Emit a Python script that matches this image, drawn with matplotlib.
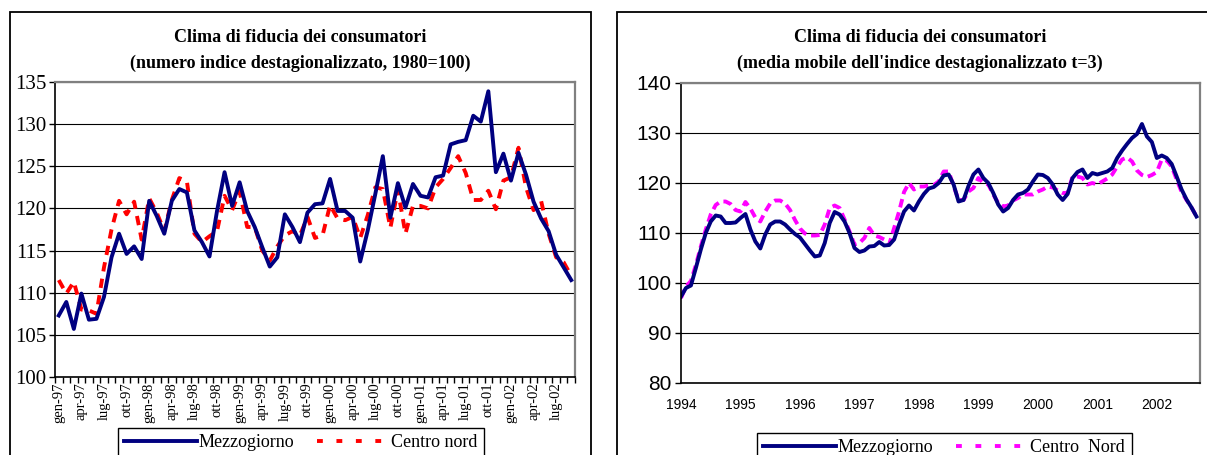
#!/usr/bin/env python
# Clima di fiducia dei consumatori: Mezzogiorno vs Centro nord (two Excel-style panels)

import numpy as np
import matplotlib.pyplot as plt
from matplotlib.patches import Rectangle
from matplotlib.lines import Line2D

# left panel: monthly index, gen-97 .. set-02
mesi = ['gen', 'feb', 'mar', 'apr', 'mag', 'giu', 'lug', 'ago', 'set', 'ott', 'nov', 'dic']
anni = ['97', '98', '99', '00', '01', '02']
mezzo_m = [107.3, 108.9, 105.7, 109.9, 106.8, 106.9, 109.5, 114.2, 117.0, 114.6, 115.5, 114.0,
           120.9, 119.1, 117.0, 120.9, 122.3, 121.9, 117.4, 116.0, 114.3, 119.7, 124.3, 120.3,
           123.1, 119.7, 117.8, 115.4, 113.1, 114.2, 119.3, 117.8, 116.0, 119.5, 120.5, 120.6,
           123.5, 119.7, 119.7, 118.9, 113.7, 117.4, 121.7, 126.2, 118.9, 123.0, 120.1, 122.9,
           121.5, 121.3, 123.7, 123.9, 127.6, 127.9, 128.1, 131.0, 130.3, 133.9, 124.3, 126.5,
           123.3, 126.6, 124.0, 120.8, 118.8, 117.3, 114.5, 113.0, 111.5]
centro_m = [111.5, 109.9, 111.3, 108.0, 107.9, 107.5, 113.0, 117.5, 120.9, 119.3, 120.8, 116.3,
            121.2, 119.5, 117.3, 121.0, 123.6, 123.2, 117.0, 116.0, 116.7, 117.3, 121.5, 119.8,
            122.0, 117.8, 117.8, 115.0, 113.8, 115.5, 116.8, 117.3, 116.8, 119.0, 116.5, 116.8,
            120.4, 118.8, 118.6, 119.0, 116.5, 119.2, 122.5, 122.3, 117.7, 122.2, 117.0, 120.3,
            120.3, 120.0, 122.5, 123.5, 124.8, 126.2, 124.2, 121.0, 121.0, 122.1, 119.9, 123.3,
            123.7, 127.2, 122.5, 119.8, 120.9, 117.0, 114.2, 113.6, 112.0]

# right panel: 3-month moving average, Jan 1994 .. Sep 2002
mezzo_mm = [97.3, 99.0, 99.5, 103.0, 106.7, 110.0, 112.3, 113.5, 113.3, 112.0, 112.0, 112.1, 113.0,
            113.8, 110.7, 108.3, 106.9, 109.7, 111.7, 112.3, 112.3, 111.7, 110.7, 109.8, 109.1, 107.8, 106.5,
            105.3, 105.5, 108.0, 112.0, 114.2, 113.7, 112.3, 110.0, 107.0, 106.2, 106.5, 107.3, 107.4,
            108.2, 107.5, 107.6, 108.7, 111.7, 114.3, 115.5, 114.5, 116.3, 117.8, 118.9, 119.2, 120.0, 121.5,
            121.7, 119.7, 116.3, 116.6, 119.4, 121.7, 122.7, 121.0, 120.0, 118.0, 115.7, 114.3, 115.0,
            116.6, 117.7, 118.0, 118.7, 120.3, 121.7, 121.6, 121.0, 119.7, 117.7, 116.6, 117.8, 121.0,
            122.2, 122.7, 121.0, 122.0, 121.7, 122.0, 122.3, 123.0, 125.0, 126.5, 127.8, 129.0, 129.8,
            131.8, 129.3, 128.2, 125.0, 125.5, 125.0, 123.8, 121.3, 118.7, 116.7, 115.1, 113.3]
centro_mm = [97.0, 99.3, 100.4, 103.6, 107.3, 110.7, 113.7, 115.6, 116.3, 116.3, 115.8, 114.6, 114.3,
             116.2, 114.9, 113.1, 112.3, 114.3, 115.9, 116.5, 116.5, 115.9, 114.6, 112.6, 110.9, 109.9, 109.5,
             109.5, 109.6, 111.7, 115.0, 115.5, 115.0, 112.7, 110.3, 107.7, 108.0, 109.0, 111.0, 109.5,
             109.2, 108.7, 107.7, 111.0, 114.3, 118.2, 120.0, 118.7, 119.3, 119.3, 119.5, 119.6, 120.3, 122.3,
             122.3, 119.4, 116.6, 116.6, 118.3, 119.0, 121.0, 120.0, 119.7, 117.7, 116.0, 115.3, 115.5,
             116.5, 117.0, 117.7, 117.7, 117.7, 118.3, 118.7, 119.3, 119.1, 118.5, 118.0, 118.0, 121.3,
             121.3, 121.0, 119.7, 120.0, 119.7, 120.3, 120.9, 121.7, 123.3, 124.7, 125.1, 124.3, 122.5,
             121.6, 121.2, 121.6, 122.2, 124.7, 124.5, 123.3, 120.7, 118.2, 116.6, 115.1, 113.3]
anni_r = [1994, 1995, 1996, 1997, 1998, 1999, 2000, 2001, 2002]

SERIF = 'Liberation Serif'
SANS = 'Liberation Sans'
W, H = 1207, 455

fig = plt.figure(figsize=(W / 100, H / 100), dpi=100)

def fx(px):
    return px / W

def fy(py):
    return 1 - py / H

# chart frames (cut by the page edge)
fig.patches.append(Rectangle((fx(10), -0.1), fx(591) - fx(10), fy(12) + 0.1,
                             transform=fig.transFigure, fill=False, ec='black', lw=1.3))
fig.patches.append(Rectangle((fx(617), -0.1), 0.6, fy(12) + 0.1,
                             transform=fig.transFigure, fill=False, ec='black', lw=1.3))

def style_axes(ax):
    ax.spines['top'].set_color('#808080')
    ax.spines['right'].set_color('#808080')
    ax.spines['top'].set_linewidth(1.6)
    ax.spines['right'].set_linewidth(1.6)
    ax.spines['left'].set_linewidth(1.2)
    ax.spines['bottom'].set_linewidth(1.2)
    ax.yaxis.grid(True, color='black', lw=0.8)
    ax.set_axisbelow(True)

# ---- left panel
ax1 = fig.add_axes([fx(55), fy(377), fx(575) - fx(55), fy(82) - fy(377)])
style_axes(ax1)
x1 = np.arange(len(mezzo_m))
ax1.plot(x1, centro_m, color='#FF0000', lw=2.8, dashes=(2.4, 1.9))
ax1.plot(x1, mezzo_m, color='#000080', lw=2.8)
ax1.set_xlim(-0.5, len(mezzo_m) - 0.5)
ax1.set_ylim(100, 135)
ax1.set_yticks(np.arange(100, 136, 5))
lab1 = [m + '-' + a for a in anni for m in mesi][:len(mezzo_m)]
ax1.set_xticks(x1[::3])
ax1.set_xticklabels(lab1[::3], rotation=90, family=SERIF, fontsize=10.5)
ax1.set_xticks(np.arange(-0.5, len(mezzo_m), 1), minor=True)
ax1.tick_params(axis='x', which='major', length=0, pad=4)
ax1.tick_params(axis='x', which='minor', length=4, width=1)
ax1.tick_params(axis='y', length=4, width=1, pad=2)
for t in ax1.get_yticklabels():
    t.set_family(SERIF)
    t.set_fontsize(15)

fig.text(fx(300), fy(38), 'Clima di fiducia dei consumatori', ha='center', va='center',
         family=SERIF, weight='bold', fontsize=13)
fig.text(fx(300), fy(63), '(numero indice destagionalizzato, 1980=100)', ha='center', va='center',
         family=SERIF, weight='bold', fontsize=13)

h1 = [Line2D([], [], color='#000080', lw=2.8),
      Line2D([], [], color='#FF0000', lw=2.8, dashes=(1.5, 3.5))]
leg1 = fig.legend(h1, ['Mezzogiorno', 'Centro nord'], loc='upper left',
                  bbox_to_anchor=(fx(118), fy(428)), ncol=2, fancybox=False, edgecolor='black',
                  framealpha=1, prop={'family': SERIF, 'size': 13}, handlelength=4.0,
                  handletextpad=0.1, columnspacing=1.3, borderpad=0.35, borderaxespad=0)
leg1.get_frame().set_linewidth(1.0)

# ---- right panel
ax2 = fig.add_axes([fx(681), fy(383), fx(1200) - fx(681), fy(83) - fy(383)])
style_axes(ax2)
x2 = 1994 + np.arange(len(mezzo_mm)) / 12
ax2.plot(x2, centro_mm, color='#FF00FF', lw=2.8, dashes=(2.2, 1.3))
ax2.plot(x2, mezzo_mm, color='#000080', lw=2.8)
ax2.set_xlim(1994, 2002.726)
ax2.set_ylim(80, 140)
ax2.set_yticks(np.arange(80, 141, 10))
ax2.set_xticks(anni_r)
ax2.set_xticklabels([str(a) for a in anni_r], family=SANS, fontsize=10)
ax2.tick_params(axis='x', length=0, pad=11)
ax2.tick_params(axis='y', length=4, width=1, pad=3)
for t in ax2.get_yticklabels():
    t.set_family(SANS)
    t.set_fontsize(15)

fig.text(fx(920), fy(38), 'Clima di fiducia dei consumatori', ha='center', va='center',
         family=SERIF, weight='bold', fontsize=13)
fig.text(fx(920), fy(63), "(media mobile dell'indice destagionalizzato t=3)", ha='center', va='center',
         family=SERIF, weight='bold', fontsize=13)

h2 = [Line2D([], [], color='#000080', lw=2.8),
      Line2D([], [], color='#FF00FF', lw=2.8, dashes=(1.5, 3.5))]
leg2 = fig.legend(h2, ['Mezzogiorno', 'Centro  Nord'], loc='upper left',
                  bbox_to_anchor=(fx(757), fy(433)), ncol=2, fancybox=False, edgecolor='black',
                  framealpha=1, prop={'family': SERIF, 'size': 13}, handlelength=4.0,
                  handletextpad=0.1, columnspacing=1.3, borderpad=0.35, borderaxespad=0)
leg2.get_frame().set_linewidth(1.0)

fig.savefig('out.png', dpi=100)
